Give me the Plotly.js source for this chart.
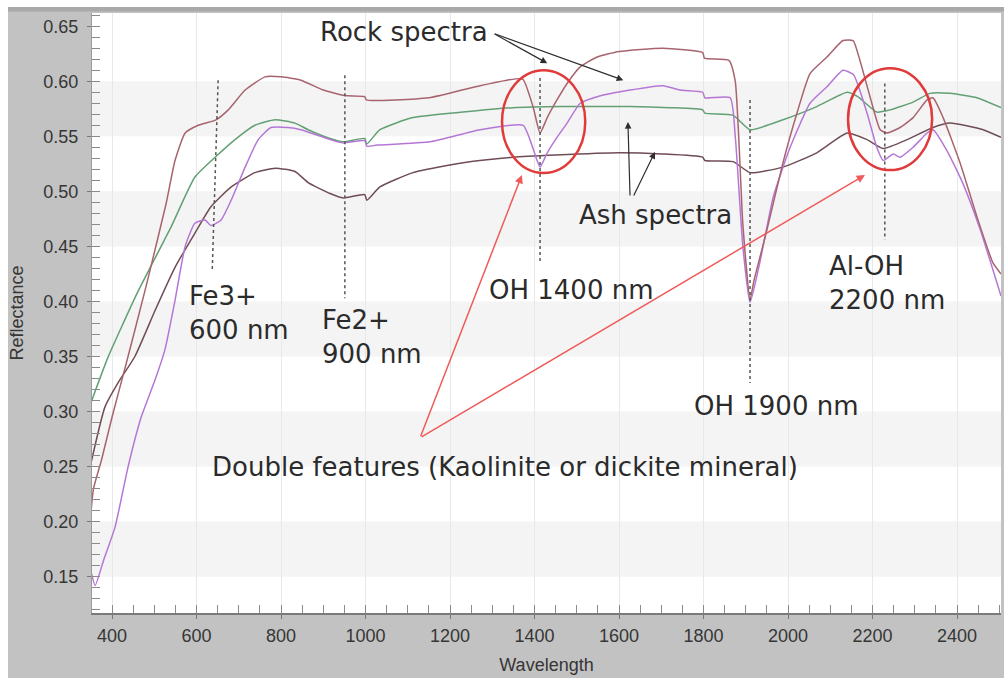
<!DOCTYPE html>
<html>
<head>
<meta charset="utf-8">
<script src="https://cdn.plot.ly/plotly-3.0.1.min.js"></script>
<style>
  html, body { margin: 0; padding: 0; background: #ffffff; }
  #chart { width: 1004px; height: 678px; }
</style>
</head>
<body>
<div id="chart"></div>
<script>
// ---------- DATA ----------
// Rock spectrum 1 (upper, rosy brown)
const wlRockA = [350, 356, 375, 400, 431, 480, 528, 549, 573, 604,
  646, 675, 715, 762, 800, 847, 900, 950, 998, 1002,
  1150, 1271, 1335, 1372, 1397, 1413, 1430, 1453, 1477, 1508,
  1548, 1600, 1704, 1798, 1802, 1860, 1875, 1893, 1910, 1920,
  1950, 1988, 2021, 2052, 2092, 2130, 2154, 2170, 2194, 2218,
  2234, 2265, 2296, 2329, 2343, 2367, 2407, 2447, 2485, 2504];
const rockA = [0.208, 0.230, 0.256, 0.295, 0.340, 0.413, 0.489, 0.528, 0.553, 0.560,
  0.565, 0.574, 0.592, 0.604, 0.604, 0.601, 0.592, 0.587, 0.586, 0.583,
  0.585, 0.596, 0.601, 0.602, 0.576, 0.553, 0.567, 0.583, 0.598, 0.613,
  0.622, 0.627, 0.630, 0.626, 0.621, 0.619, 0.600, 0.470, 0.402, 0.420,
  0.465, 0.526, 0.571, 0.607, 0.622, 0.637, 0.637, 0.619, 0.586, 0.556,
  0.553, 0.558, 0.567, 0.583, 0.585, 0.567, 0.526, 0.477, 0.435, 0.425];

// Rock spectrum 2 (purple)
const wlRockB = [350, 360, 380, 407, 438, 469, 502, 525, 549, 573,
  596, 620, 634, 658, 682, 715, 746, 776, 816, 847,
  916, 947, 998, 1003, 1027, 1153, 1271, 1373, 1389, 1406,
  1413, 1430, 1453, 1477, 1508, 1548, 1626, 1704, 1744, 1798,
  1803, 1863, 1875, 1893, 1910, 1933, 1965, 2005, 2052, 2092,
  2130, 2155, 2187, 2210, 2225, 2249, 2265, 2296, 2329, 2343,
  2376, 2414, 2455, 2504];
const rockB = [0.155, 0.142, 0.165, 0.195, 0.250, 0.295, 0.329, 0.356, 0.401, 0.450,
  0.471, 0.474, 0.469, 0.474, 0.492, 0.522, 0.547, 0.558, 0.558, 0.556,
  0.547, 0.544, 0.546, 0.541, 0.542, 0.545, 0.556, 0.560, 0.547, 0.528,
  0.522, 0.535, 0.549, 0.562, 0.580, 0.586, 0.592, 0.596, 0.592, 0.590,
  0.585, 0.585, 0.550, 0.450, 0.399, 0.435, 0.495, 0.540, 0.580, 0.595,
  0.610, 0.606, 0.571, 0.540, 0.528, 0.534, 0.531, 0.540, 0.553, 0.556,
  0.537, 0.507, 0.465, 0.405];

// Ash spectrum 1 (green)
const wlAshA = [350, 390, 460, 540, 596, 644, 691, 738, 786, 833,
  864, 916, 947, 998, 1003, 1034, 1112, 1231, 1349, 1468,
  1626, 1721, 1798, 1803, 1870, 1910, 1988, 2068, 2140, 2165,
  2210, 2241, 2296, 2336, 2383, 2447, 2504];
const ashA = [0.308, 0.349, 0.408, 0.468, 0.513, 0.531, 0.547, 0.560, 0.565, 0.562,
  0.556, 0.548, 0.545, 0.548, 0.543, 0.556, 0.567, 0.572, 0.576, 0.577,
  0.577, 0.576, 0.574, 0.571, 0.569, 0.556, 0.565, 0.577, 0.590, 0.586,
  0.572, 0.574, 0.581, 0.589, 0.589, 0.585, 0.576];

// Ash spectrum 2 (dark brown)
const wlAshB = [350, 383, 414, 454, 502, 549, 596, 634, 682, 738,
  786, 833, 864, 916, 947, 998, 1003, 1034, 1112, 1231,
  1349, 1450, 1600, 1700, 1798, 1803, 1870, 1910, 1988, 2068,
  2140, 2187, 2225, 2282, 2343, 2383, 2462, 2504];
const ashB = [0.253, 0.304, 0.326, 0.350, 0.392, 0.431, 0.462, 0.486, 0.504, 0.517,
  0.521, 0.518, 0.508, 0.498, 0.494, 0.497, 0.492, 0.504, 0.517, 0.526,
  0.531, 0.533, 0.535, 0.534, 0.531, 0.528, 0.527, 0.517, 0.522, 0.535,
  0.553, 0.547, 0.539, 0.547, 0.558, 0.562, 0.556, 0.549];

// Labels
const xTitle = 'Wavelength';
const yTitle = 'Reflectance';
const labelRock = 'Rock spectra';
const labelAsh = 'Ash spectra';
const labelFe3 = 'Fe3+<br>600 nm';
const labelFe2 = 'Fe2+<br>900 nm';
const labelOH14 = 'OH 1400 nm';
const labelOH19 = 'OH 1900 nm';
const labelAlOH = 'Al-OH<br>2200 nm';
const labelDouble = 'Double features (Kaolinite or dickite mineral)';

// ---------- STYLES ----------
const colRockA = '#a8646e';
const colRockB = '#b577d6';
const colAshA = '#62a074';
const colAshB = '#6f4d55';

function line(x, y, color) {
  return { x: x, y: y, type: 'scatter', mode: 'lines',
           line: { color: color, width: 1.5, shape: 'spline', smoothing: 0.5 },
           hoverinfo: 'skip', showlegend: false };
}

const traces = [
  line(wlAshA, ashA, colAshA),
  line(wlAshB, ashB, colAshB),
  line(wlRockB, rockB, colRockB),
  line(wlRockA, rockA, colRockA)
];

const annFont = { family: 'DejaVu Sans', size: 26, color: '#2b2b2b' };
function txt(text, x, y) {
  return { text: text, x: x, y: y, xref: 'x', yref: 'y', xanchor: 'left', yanchor: 'middle',
           align: 'left', showarrow: false, font: annFont };
}
function arrow(tx, ty, hx, hy, color, w) {
  return { text: '', x: hx, y: hy, ax: tx, ay: ty, xref: 'x', yref: 'y', axref: 'x', ayref: 'y',
           showarrow: true, arrowhead: 2, arrowsize: 1.1, arrowwidth: w, arrowcolor: color,
           standoff: 0, startstandoff: 0 };
}

const annotations = [
  txt(labelRock, 888, 0.6446),
  txt(labelAsh, 1500, 0.4785),
  txt(labelFe3, 578, 0.3896),
  txt(labelFe2, 891, 0.3678),
  txt(labelOH14, 1287, 0.4104),
  txt(labelAlOH, 2091, 0.4168),
  txt(labelOH19, 1772, 0.3052),
  txt(labelDouble, 631, 0.2498),
  arrow(1302, 0.6436, 1430, 0.6164, '#2e2e2e', 1.2),
  arrow(1302, 0.6436, 1610, 0.6010, '#2e2e2e', 1.2),
  arrow(1626, 0.4948, 1621, 0.5629, '#2e2e2e', 1.2),
  arrow(1633, 0.4948, 1685, 0.5357, '#2e2e2e', 1.2),
  arrow(1129, 0.2761, 1370, 0.5148, '#f05a5a', 1.5),
  arrow(1129, 0.2761, 2182, 0.5148, '#f05a5a', 1.5)
];

// background bands
const bandStarts = [0.15, 0.25, 0.35, 0.45, 0.55];
const shapes = [];
bandStarts.forEach(function (b) {
  shapes.push({ type: 'rect', xref: 'paper', yref: 'y', x0: 0, x1: 1, y0: b, y1: b + 0.05,
                fillcolor: '#f4f4f4', line: { width: 0 }, layer: 'below' });
});
// white frame strips + dark top line of the window
shapes.push({ type: 'rect', xref: 'paper', yref: 'paper', x0: -0.2, x1: 1.2, y0: 1.0100, y1: 1.06,
              fillcolor: '#ffffff', line: { width: 0 }, layer: 'below' });
shapes.push({ type: 'rect', xref: 'paper', yref: 'paper', x0: -0.2, x1: -0.0924, y0: -0.2, y1: 1.06,
              fillcolor: '#ffffff', line: { width: 0 }, layer: 'below' });
shapes.push({ type: 'rect', xref: 'paper', yref: 'paper', x0: -0.0924, x1: 1.2, y0: 1.0025, y1: 1.0100,
              fillcolor: '#a9a9a9', line: { width: 0 }, layer: 'below' });

// dotted marker lines
const dotted = [
  [651, 0.601, 637, 0.427],
  [951, 0.6055, 951, 0.403],
  [1413, 0.603, 1413, 0.436],
  [1910, 0.583, 1910, 0.326],
  [2229, 0.598, 2229, 0.456]
];
dotted.forEach(function (d) {
  shapes.push({ type: 'line', xref: 'x', yref: 'y', x0: d[0], y0: d[1], x1: d[2], y1: d[3],
                line: { color: '#555555', width: 1.5, dash: 'dot' }, layer: 'above' });
});
// red circles
shapes.push({ type: 'circle', xref: 'x', yref: 'y', x0: 1323, x1: 1520, y0: 0.5166, y1: 0.610,
              line: { color: '#e03a3a', width: 2.5 }, layer: 'above' });
shapes.push({ type: 'circle', xref: 'x', yref: 'y', x0: 2142, x1: 2341, y0: 0.5193, y1: 0.6119,
              line: { color: '#e03a3a', width: 2.5 }, layer: 'above' });

const tickFont = { family: 'Liberation Sans, Arial, sans-serif', size: 18, color: '#363636' };

const layout = {
  width: 1004, height: 678,
  margin: { l: 92, r: 3, t: 13, b: 65, pad: 0 },
  paper_bgcolor: '#c2c2c2',
  plot_bgcolor: '#ffffff',
  showlegend: false,
  xaxis: {
    range: [352.5, 2504], dtick: 200, tick0: 0,
    showgrid: true, gridcolor: '#e8e8e8', gridwidth: 1, zeroline: false,
    ticks: 'outside', ticklen: 4, tickcolor: '#777', ticklabelstandoff: 1,
    tickfont: tickFont,
    showline: true, linecolor: '#7a7a7a', linewidth: 2,
    minor: { dtick: 50, ticks: 'inside', ticklen: 8, tickcolor: '#8a8a8a', showgrid: false },
    title: { text: xTitle, font: { family: 'Liberation Sans, Arial, sans-serif', size: 18, color: '#363636' }, standoff: 14 }
  },
  yaxis: {
    range: [0.117, 0.662], dtick: 0.05, tick0: 0, tickformat: '.2f',
    showgrid: false, zeroline: false,
    ticks: 'outside', ticklen: 4, tickcolor: '#777', ticklabelstandoff: 5,
    tickfont: tickFont,
    showline: true, linecolor: '#9a9a9a', linewidth: 1,
    minor: { dtick: 0.01, ticks: 'inside', ticklen: 8, tickcolor: '#8a8a8a', showgrid: false },
    title: { text: yTitle, font: { family: 'Liberation Sans, Arial, sans-serif', size: 18, color: '#363636' }, standoff: 15 }
  },
  annotations: annotations,
  shapes: shapes
};

Plotly.newPlot('chart', traces, layout, { staticPlot: true, displayModeBar: false });
</script>
</body>
</html>
